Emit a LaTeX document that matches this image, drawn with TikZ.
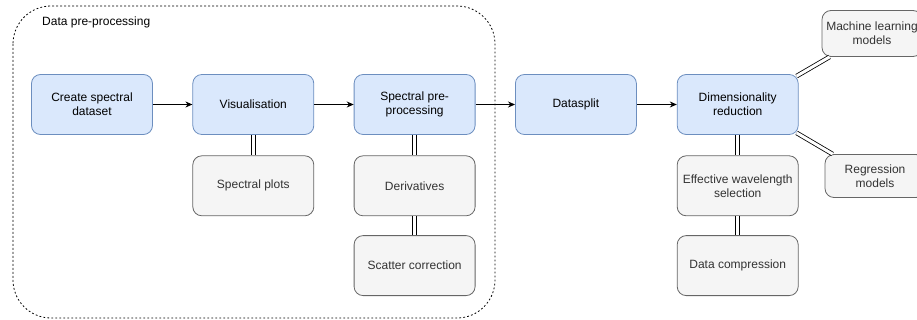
\documentclass[tikz,border=0pt]{standalone}
\usepackage{fontspec}
\setmainfont{Liberation Sans}
\usepackage{tikz}
\usetikzlibrary{arrows.meta,positioning}

\definecolor{bluefill}{HTML}{DAE8FC}
\definecolor{bluedraw}{HTML}{6C8EBF}
\definecolor{greyfill}{HTML}{F5F5F5}
\definecolor{greydraw}{HTML}{666666}
\definecolor{greytext}{HTML}{333333}

\begin{document}
\begin{tikzpicture}[x=1pt, y=-1pt, font=\fontsize{12}{14}\selectfont]
\tikzstyle{bluebox} = [draw=bluedraw, fill=bluefill, line width=0.8pt, rounded corners=9pt,
    minimum width=121pt, minimum height=60pt, align=center, inner sep=2pt]
\tikzstyle{greybox} = [draw=greydraw, fill=greyfill, text=greytext, line width=0.8pt, rounded corners=9pt,
    minimum width=121pt, minimum height=60pt, align=center, inner sep=2pt]
\tikzstyle{flow} = [-{Stealth[length=7pt,width=6pt]}, line width=0.8pt]
\tikzstyle{link} = [double, double distance=3pt, line width=0.8pt]
\clip (0,0) rectangle (917,320);

% group
\draw[dashed, dash pattern=on 1.8pt off 2.2pt, line width=0.8pt, rounded corners=38pt] (13,6) rectangle (495,318);
\node[anchor=west, inner sep=0pt] (grouplabel) at (42,22) {Data pre-processing};

% main chain
\node[bluebox] (create) at (92,104.5) {Create spectral\\dataset};
\node[bluebox, right=39.5pt of create] (vis) {Visualisation};
\node[bluebox, right=39.5pt of vis] (spec) {Spectral pre-\\processing};
\node[bluebox, right=39.5pt of spec] (split) {Datasplit};
\node[bluebox, right=40pt of split] (dim) {Dimensionality\\reduction};

% details
\node[greybox, below=20.5pt of vis] (plots) {Spectral plots};
\node[greybox, below=20.5pt of spec] (deriv) {Derivatives};
\node[greybox, below=19pt of deriv] (scatter) {Scatter correction};
\node[greybox, below=20.5pt of dim] (wave) {Effective wavelength\\selection};
\node[greybox, below=19pt of wave] (compress) {Data compression};
\node[greybox, minimum width=100pt, minimum height=46pt] (ml) at (872,33.5) {Machine learning\\models};
\node[greybox, minimum width=100pt, minimum height=43pt] (reg) at (875,176) {Regression\\models};

\draw[flow] (create) -- (vis);
\draw[flow] (vis) -- (spec);
\draw[flow] (spec) -- (split);
\draw[flow] (split) -- (dim);

\draw[link] (vis) -- (plots);
\draw[link] (spec) -- (deriv);
\draw[link] (deriv) -- (scatter);
\draw[link] (dim) -- (wave);
\draw[link] (wave) -- (compress);
\draw[link] ([xshift=-2pt,yshift=-2pt]dim.north east) -- ([xshift=8pt]ml.south west);
\draw[link] ([xshift=-2pt,yshift=2pt]dim.south east) -- ([xshift=8pt]reg.north west);
\end{tikzpicture}
\end{document}
